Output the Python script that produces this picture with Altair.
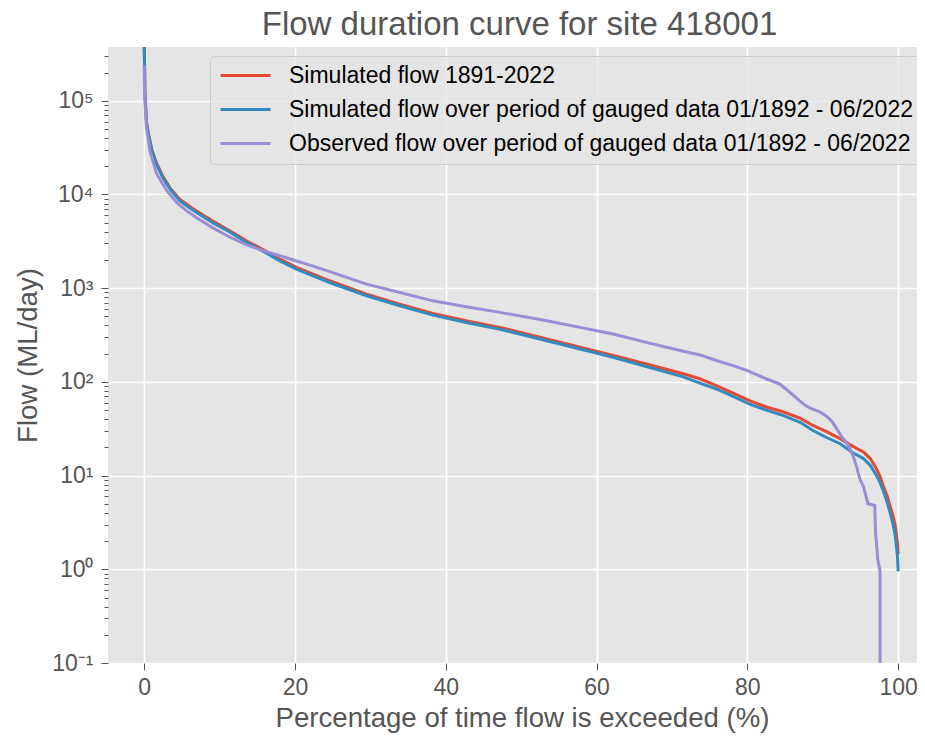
import altair as alt
import pandas as pd

# ---- data ----
red_x = [0, 0.03, 0.1, 0.3, 0.55, 1.0, 1.6, 2.5, 3.5, 4.7, 6.0, 7.0, 9.1, 11.4, 13.6, 15.7, 18.0,
         20.2, 22.4, 24.6, 29.5, 33.9, 38.3, 42.7, 47.2, 53.4, 57.8, 62.2, 66.6, 71.5, 73.7, 75.9,
         78.1, 80.3, 82.5, 84.7, 87.0, 88.7, 90.5, 92.3, 94.0, 95.4, 96.3, 97.1, 97.6, 98.0, 98.5,
         98.9, 99.3, 99.6, 99.9, 100]
red_y = [3.75e5, 3.0e5, 1.25e5, 6.0e4, 4.5e4, 3.05e4, 2.2e4, 1.55e4, 1.15e4, 8900, 7500, 6640, 5200,
         4070, 3190, 2600, 2040, 1670, 1410, 1200, 863, 676, 538, 449, 382, 287, 234, 191, 155, 122,
         108, 91, 76, 63, 54, 48, 41, 34.3, 29.5, 24.8, 20.5, 17.9, 15.2, 11.9, 9.8, 7.9, 6.2, 4.8,
         3.8, 2.96, 1.97, 1.45]

blue_x = red_x
blue_y = [3.75e5, 3.0e5, 1.2e5, 5.8e4, 4.4e4, 2.95e4, 2.12e4, 1.5e4, 1.12e4, 8600, 7200, 6400, 5000,
          3950, 3080, 2500, 1960, 1600, 1350, 1150, 830, 650, 516, 430, 365, 275, 224, 183, 146, 113,
          97, 84, 70, 58, 50, 44, 37, 30.3, 25.5, 21.9, 17.5, 15.2, 12.8, 10.1, 8.4, 7.0, 5.3, 4.1,
          3.1, 2.3, 1.42, 0.95]

purple_x = [0, 0.02, 0.1, 0.3, 0.75, 1.6, 2.4, 3.0, 4.3, 5.5, 7.0, 9.1, 11.4, 13.6, 15.7, 18.0, 20.2,
            22.4, 24.6, 29.5, 33.9, 38.3, 42.7, 47.2, 53.4, 57.8, 60.0, 62.2, 66.6, 69.3, 71.5, 73.7,
            75.9, 78.1, 80.0, 82.5, 84.3, 85.6, 86.9, 87.6, 88.2, 89.0, 89.6, 90.5, 91.2, 91.6, 92.5,
            93.4, 94.0, 94.5, 94.9, 95.4, 96.0, 96.9, 97.0, 97.3, 97.6, 97.6]
purple_y = [2.4e5, 1.6e5, 1.0e5, 5.2e4, 2.95e4, 1.7e4, 1.32e4, 1.1e4, 8200, 6800, 5600, 4400, 3500,
            2900, 2520, 2220, 1950, 1720, 1500, 1104, 900, 733, 635, 552, 449, 382, 351, 324, 264,
            234, 212, 194, 169, 149, 132, 108, 95, 78, 63, 57, 53, 50, 48, 43, 38, 34, 26, 21, 16.4,
            12.4, 9.3, 7.6, 5.0, 4.8, 2.5, 1.26, 0.95, 0.1]

series_names = [
    "Simulated flow 1891-2022",
    "Simulated flow over period of gauged data 01/1892 - 06/2022",
    "Observed flow over period of gauged data 01/1892 - 06/2022",
]
series_colors = ["#E24A33", "#348ABD", "#988ED5"]

x_ticks = [0, 20, 40, 60, 80, 100]
y_major = [0.1, 1, 10, 100, 1000, 10000, 100000]
y_minor = [m * 10 ** k for k in range(-1, 6) for m in range(2, 10) if m * 10 ** k <= 3.7e5]

# ---- build table ----
rows = []
for name, xs, ys in zip(series_names, [red_x, blue_x, purple_x], [red_y, blue_y, purple_y]):
    for i, (a, b) in enumerate(zip(xs, ys)):
        rows.append({"series": name, "pct": a, "flow": b, "idx": i})
df = pd.DataFrame(rows)

FONT = "Liberation Sans"
GREY = "#555555"

x_scale = alt.Scale(domain=[-4.8, 102.5], nice=False, zero=False)
y_scale = alt.Scale(type="log", domain=[0.1, 3.75e5], nice=False)

color = alt.Color(
    "series:N",
    scale=alt.Scale(domain=series_names, range=series_colors),
    legend=alt.Legend(
        title=None, orient="none", legendX=102, legendY=9,
        symbolType="M-2.5,0H2.5", symbolSize=400, symbolStrokeWidth=3,
        labelFont=FONT, labelFontSize=23, labelColor="black", labelLimit=900,
        fillColor="rgba(229,229,229,0.8)", strokeColor="#CCCCCC", cornerRadius=4,
        padding=8, rowPadding=10, symbolOffset=16, labelOffset=32,
    ),
    sort=series_names,
)

label_expr = ("datum.value < 0.5 ? '10⁻¹' : datum.value < 5 ? '10⁰' : datum.value < 50 ? '10¹' : "
              "datum.value < 500 ? '10²' : datum.value < 5000 ? '10³' : datum.value < 50000 ? '10⁴' : '10⁵'")

x_enc = alt.X("pct:Q", scale=x_scale, axis=alt.Axis(
    values=x_ticks, title="Percentage of time flow is exceeded (%)", grid=True,
    labelFontSize=23, labelFont=FONT, labelColor=GREY, labelPadding=6,
    tickSize=7, tickColor=GREY, domain=False, gridColor="white", gridWidth=1.6,
    titleFont=FONT, titleFontSize=27.6, titleFontWeight="normal", titleColor=GREY,
    titleX=414, titleY=63, titleBaseline="alphabetic", titleAlign="center"))

major_axis = alt.Axis(
    values=y_major, labelExpr=label_expr, orient="left", title="Flow (ML/day)", grid=True,
    labelFontSize=23, labelFont=FONT, labelColor=GREY, labelPadding=8,
    tickSize=7, tickColor=GREY, domain=False, gridColor="white", gridWidth=1.6,
    titleFont=FONT, titleFontSize=27.6, titleFontWeight="normal", titleColor=GREY,
    titleX=-72, titleY=308, titleAngle=270, titleBaseline="alphabetic", titleAlign="center")

minor_axis = alt.Axis(values=y_minor, orient="left", title=None, grid=False, labels=False,
                      tickSize=4, tickColor=GREY, domain=False)

base = alt.Chart(df)
layers = []
for name, ax in zip(series_names, [major_axis, minor_axis, None]):
    yenc = alt.Y("flow:Q", scale=y_scale, axis=ax) if ax is not None else alt.Y("flow:Q", scale=y_scale, axis=None)
    layers.append(
        base.transform_filter(alt.datum.series == name)
        .mark_line(strokeWidth=3, clip=True)
        .encode(x=x_enc, y=yenc, color=color, order="idx:Q")
    )

chart = (
    alt.layer(*layers)
    .resolve_axis(y="independent")
    .properties(
        width=809, height=616,
        autosize=alt.AutoSizeParams(type="none"),
        padding={"left": 100, "top": 39, "right": 0, "bottom": 70},
        title=alt.Title("Flow duration curve for site 418001", font=FONT, fontSize=33,
                        fontWeight="normal", color=GREY, anchor="middle", frame="group",
                        dx=7, dy=35, offset=14, baseline="alphabetic"),
    )
    .configure_view(fill="#E5E5E5", strokeWidth=0)
)

chart.save("out.html", embed_options={"renderer": "svg", "actions": False})
